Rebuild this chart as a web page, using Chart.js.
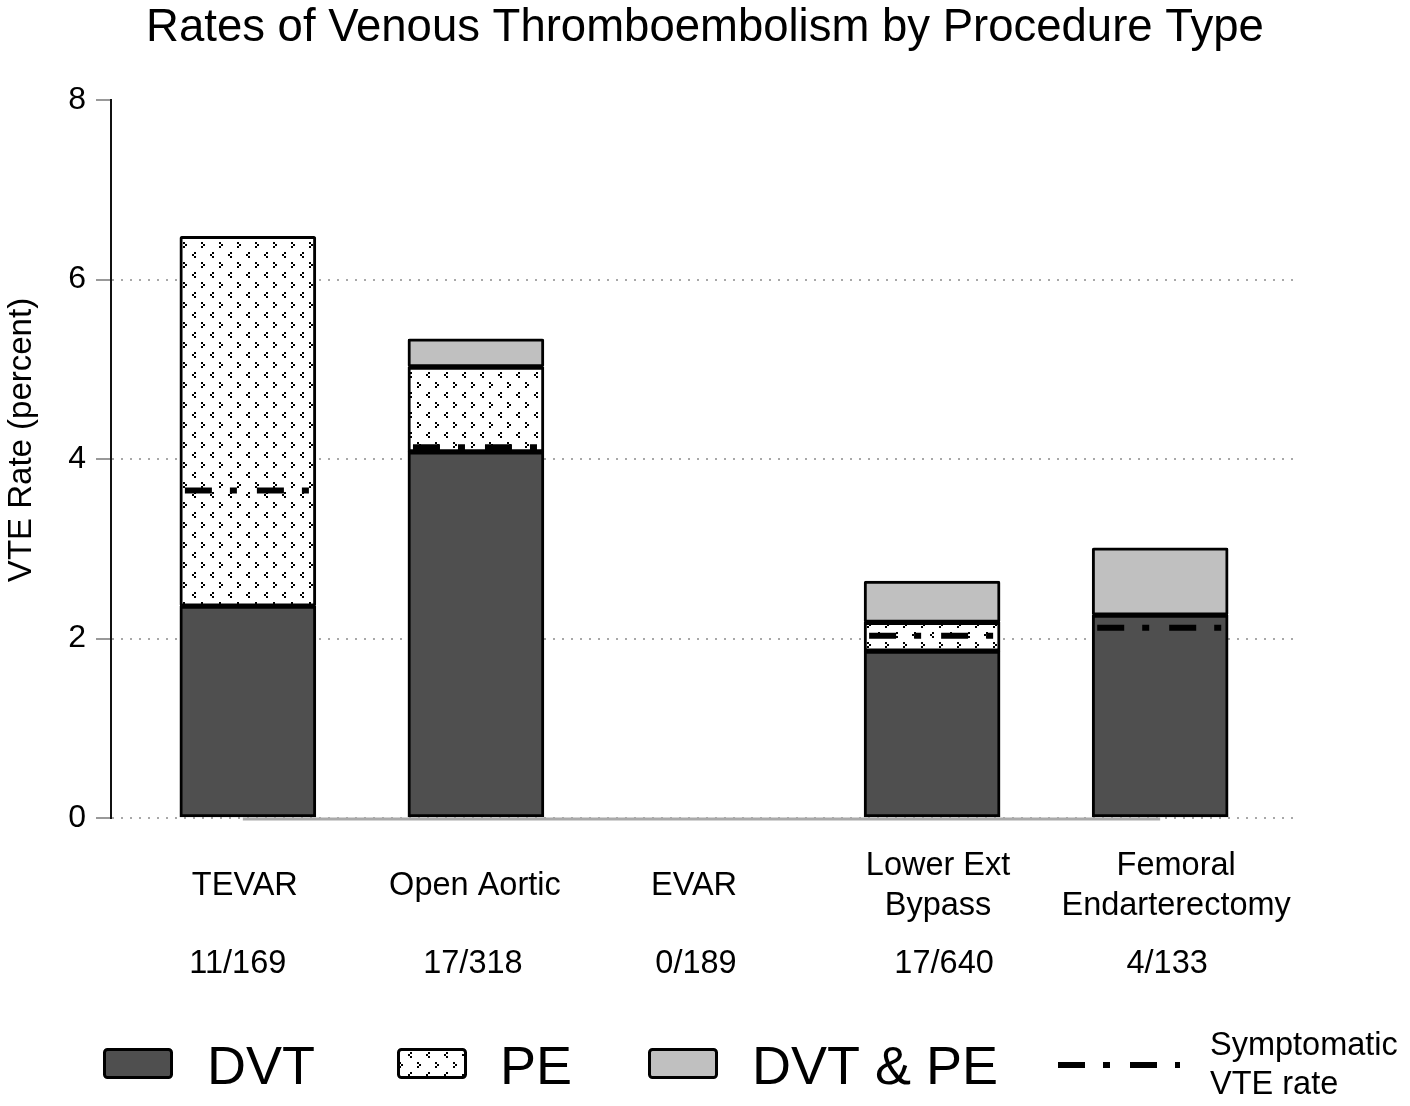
<!DOCTYPE html>
<html>
<head>
<meta charset="utf-8">
<script src="https://cdn.jsdelivr.net/npm/chart.js@4"></script>
<style>
html,body{margin:0;padding:0;background:#fff;}
#wrap{width:1410px;height:1106px;}
</style>
</head>
<body>
<div id="wrap"><canvas id="c" width="1410" height="1106"></canvas></div>
<script>
const categories = ['TEVAR', 'Open Aortic', 'EVAR', 'Lower Ext Bypass', 'Femoral Endarterectomy'];
const categoryLines = [['TEVAR'], ['Open Aortic'], ['EVAR'], ['Lower Ext', 'Bypass'], ['Femoral', 'Endarterectomy']];
const counts = ['11/169', '17/318', '0/189', '17/640', '4/133'];
const dvt = [2.36, 4.08, null, 1.86, 2.26];
const pe = [4.12, 0.945, null, 0.32, null];
const dvtPe = [null, 0.315, null, 0.46, 0.75];
const symptomatic = [3.65, 4.13, null, 2.03, 2.12];
const yTicks = [0, 2, 4, 6, 8];
const seriesNames = ['DVT', 'PE', 'DVT & PE'];
const symptomaticName = ['Symptomatic', 'VTE rate'];
const titleText = 'Rates of Venous Thromboembolism by Procedure Type';
const yTitle = 'VTE Rate (percent)';

// layout nudges (pixels) for the text rows under the axis
const labelDx = [-3, -1, -10, 6, 16];
const countDx = [-10, -3, -8, 12, 7];

const FONT = '"Liberation Sans", Arial, Helvetica, sans-serif';
const DVT_COLOR = '#4f4f4f';
const DVTPE_COLOR = '#c0c0c0';
const DASH = [27, 18, 7, 20];

const canvas = document.getElementById('c');
const ctx0 = canvas.getContext('2d');

function makePattern(ctx) {
  const t = document.createElement('canvas');
  t.width = 18; t.height = 20;
  const c = t.getContext('2d');
  c.fillStyle = '#fff';
  c.fillRect(0, 0, 18, 20);
  c.fillStyle = '#000';
  const dot = (x, y) => c.fillRect(x, y, 2, 2);
  dot(3, 2); dot(5, 4); dot(3, 6);
  dot(14, 12); dot(12, 14); dot(14, 16);
  return ctx.createPattern(t, 'repeat');
}
const pePattern = makePattern(ctx0);

const toXY = arr => arr.map((v, i) => ({x: i + 1, y: v}));
const symData = [];
symptomatic.forEach((v, i) => {
  if (v === null) return;
  symData.push({x: i + 1 - 0.276, y: v});
  symData.push({x: i + 1 + 0.276, y: v});
  symData.push({x: i + 1.5, y: null});
});

const barCommon = {
  type: 'bar',
  borderColor: '#000',
  borderWidth: 3,
  borderSkipped: false,
  borderRadius: 2,
  barThickness: 136,
  order: 2,
  stack: 'vte'
};

const decor = {
  id: 'decor',
  beforeDatasetsDraw(chart) {
    const {ctx, scales: {x, y}} = chart;
    ctx.save();
    ctx.strokeStyle = '#aaa';
    ctx.lineWidth = 3;
    ctx.beginPath();
    ctx.moveTo(x.getPixelForValue(1) - 5, y.getPixelForValue(0) + 1);
    ctx.lineTo(x.getPixelForValue(categories.length), y.getPixelForValue(0) + 1);
    ctx.stroke();
    ctx.restore();
  },
  afterDraw(chart) {
    const {ctx, scales: {x}} = chart;
    ctx.save();
    ctx.fillStyle = '#000';
    ctx.textAlign = 'center';
    ctx.textBaseline = 'middle';
    ctx.font = '45.5px ' + FONT;
    ctx.fillText(titleText, 705, 28);

    // y axis title
    ctx.save();
    ctx.translate(22, 440);
    ctx.rotate(-Math.PI / 2);
    ctx.font = '33px ' + FONT;
    ctx.fillText(yTitle, 0, 0);
    ctx.restore();

    ctx.font = '32.5px ' + FONT;
    categoryLines.forEach((lines, i) => {
      const cx = x.getPixelForValue(i + 1);
      const lh = 40;
      const y0 = 886 - (lines.length - 1) * lh / 2;
      lines.forEach((t, k) => ctx.fillText(t, cx + labelDx[i], y0 + k * lh));
      ctx.fillText(counts[i], cx + countDx[i], 964);
    });

    // legend
    const boxes = [
      {x: 103, fill: DVT_COLOR, tx: 207},
      {x: 397, fill: pePattern, tx: 500},
      {x: 648, fill: DVTPE_COLOR, tx: 752}
    ];
    boxes.forEach((b, i) => {
      ctx.beginPath();
      ctx.roundRect(b.x + 1.5, 1049.5, 67, 28, 3);
      ctx.fillStyle = b.fill;
      ctx.fill();
      ctx.lineWidth = 3;
      ctx.strokeStyle = '#000';
      ctx.stroke();
      ctx.fillStyle = '#000';
      ctx.textAlign = 'left';
      ctx.textBaseline = 'alphabetic';
      ctx.font = '54px ' + FONT;
      ctx.fillText(seriesNames[i], b.tx, 1084);
    });
    ctx.beginPath();
    ctx.setLineDash(DASH);
    ctx.lineWidth = 6;
    ctx.strokeStyle = '#000';
    ctx.moveTo(1058, 1065);
    ctx.lineTo(1180, 1065);
    ctx.stroke();
    ctx.setLineDash([]);
    ctx.font = '32.5px ' + FONT;
    ctx.fillStyle = '#000';
    ctx.textAlign = 'left';
    ctx.textBaseline = 'alphabetic';
    ctx.fillText(symptomaticName[0], 1210, 1055);
    ctx.fillText(symptomaticName[1], 1210, 1094);
    ctx.restore();
  }
};

new Chart(canvas, {
  data: {
    datasets: [
      Object.assign({label: seriesNames[0], data: toXY(dvt), backgroundColor: DVT_COLOR}, barCommon),
      Object.assign({label: seriesNames[1], data: toXY(pe), backgroundColor: pePattern}, barCommon),
      Object.assign({label: seriesNames[2], data: toXY(dvtPe), backgroundColor: DVTPE_COLOR}, barCommon),
      {
        type: 'line',
        label: 'Symptomatic VTE rate',
        data: symData,
        borderColor: '#000',
        borderWidth: 6,
        borderDash: DASH,
        borderCapStyle: 'butt',
        pointRadius: 0,
        spanGaps: false,
        order: 0,
        stack: 'sym'
      }
    ]
  },
  options: {
    responsive: false,
    animation: false,
    devicePixelRatio: 1,
    layout: {padding: {top: 100, bottom: 288, left: 0, right: 113}},
    plugins: {legend: {display: false}, tooltip: {enabled: false}, title: {display: false}},
    scales: {
      x: {
        type: 'linear',
        min: 0.4,
        max: 5.6,
        offset: false,
        stacked: true,
        ticks: {display: false},
        grid: {display: false, drawTicks: false},
        border: {display: false}
      },
      y: {
        type: 'linear',
        min: 0,
        max: 8,
        stacked: true,
        afterFit(s) { s.width = 111; },
        afterBuildTicks(s) { s.ticks = yTicks.map(v => ({value: v})); },
        ticks: {
          font: {family: FONT, size: 32},
          color: '#000',
          padding: 10
        },
        grid: {
          color: c => (c.tick && c.tick.value === 8) ? 'rgba(0,0,0,0)' : '#a8a8a8',
          lineWidth: 2,
          drawTicks: true,
          tickLength: 15,
          tickColor: '#999',
          tickWidth: 2,
          tickBorderDash: [],
          tickBorderDashOffset: 0
        },
        border: {display: true, color: '#111', width: 2, dash: [2, 7]},
        title: {display: false}
      }
    }
  },
  plugins: [decor]
});
</script>
</body>
</html>
